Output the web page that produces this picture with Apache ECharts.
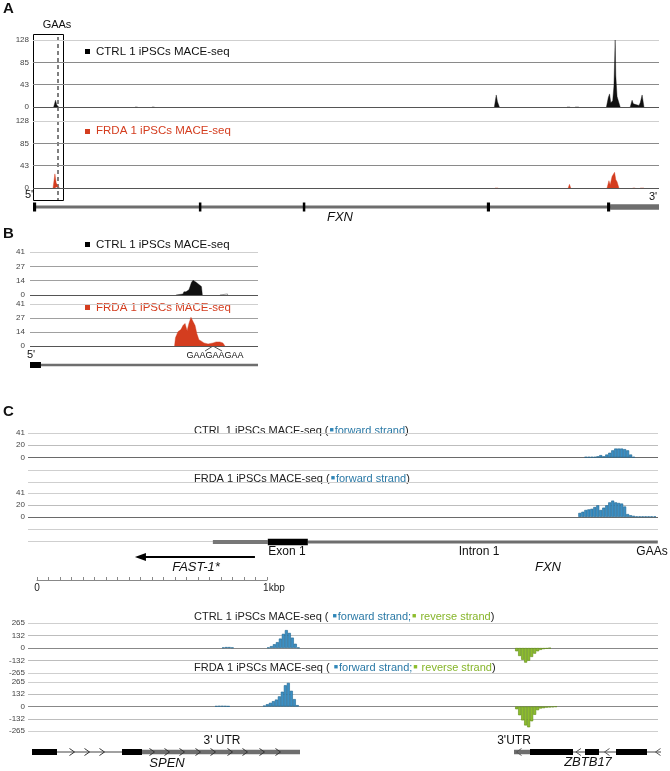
<!DOCTYPE html>
<html><head><meta charset="utf-8">
<script src="https://cdn.jsdelivr.net/npm/echarts@6/dist/echarts.min.js"></script>
<style>html,body{margin:0;padding:0;background:#fff}#c{width:670px;height:771px}</style>
</head><body><div id="c"></div>
<script>
// ---------- DATA ----------
// Panel A (FXN locus, position units 0..1000); each inner list is one peak
const aCtrlPeaks = [
  [[33,0],[36,13],[38,4],[41,0]],
  [[163,0],[165,1],[167,0]],
  [[190,0],[192,1],[194,0]],
  [[737,0],[740,23],[742,10],[745,0]],
  [[853,0],[856,2],[858,0]],
  [[866,0],[869,3],[872,0]],
  [[916,0],[919,18],[921,25],[923,8],[926,12],[928,40],[930,128],[931,60],[933,20],[935,12],[938,0]],
  [[954,0],[957,13],[959,6],[962,3],[968,3],[970,8],[973,23],[976,0]]
];
const aFrdaPeaks = [
  [[32,0],[35,27],[37,10],[40,3],[43,0]],
  [[738,0],[740,2],[743,0]],
  [[855,0],[857,7],[859,0]],
  [[917,0],[920,14],[922,6],[925,22],[929,30],[931,16],[933,12],[936,0]],
  [[958,0],[960,1],[962,0]],
  [[970,0],[973,3],[976,0]]
];
const aTicks = [0, 43, 85, 128];
const aGeneLine = [[0,1000]];
const aExons = [[0,5],[265,269],[431,435],[725,730],[917,922]];
const aUtr = [[922,1000]];

// Panel B (position units 0..1000)
const bCtrlPeaks = [
  [[640,0],[643,1],[671,1],[675,3],[684,3],[690,2],[697,5],[702,8],[708,12],[715,14],[722,13],[730,12],[741,10],[752,8],[756,0]],
  [[833,0],[834,1],[866,1],[867,0]]
];
const bFrdaPeaks = [
  [[634,0],[638,8],[649,14],[662,16],[671,20],[680,22],[689,15],[697,22],[706,28],[715,24],[724,20],[732,12],[741,6],[750,5],[763,3],[781,2],[803,3],[816,4],[833,4],[846,3],[855,0]]
];
const bTicks = [0, 14, 27, 41];
const bExons = [[0,48]];
const bGeneLine = [[48,1000]];

// Panel C top (bp, 0..2740)
const cCtrlFwd = [[2426,1],[2439,1],[2452,1],[2465,1],[2478,2],[2491,4],[2504,2],[2517,5],[2530,8],[2543,12],[2556,15],[2569,15],[2582,15],[2595,14],[2608,12],[2621,5],[2634,1]];
const cFrdaFwd = [[2400,7],[2413,9],[2426,12],[2439,13],[2452,14],[2465,17],[2478,20],[2491,12],[2504,16],[2517,20],[2530,25],[2543,28],[2556,25],[2569,24],[2582,23],[2595,18],[2608,5],[2621,3],[2634,2],[2647,1],[2660,1],[2673,1],[2686,1],[2699,1],[2712,1],[2726,1]];
const cTicksAll = [-41, -20, 0, 20, 41];
const cFxnUtr = [[804,1043]];
const cFxnExon = [[1043,1217]];
const cFxnIntron = [[1217,2739]];
const cFast1 = [[465,987]];

// Panel C bottom (bp-like units, 0..3150)
const dCtrlFwd = [[985,5],[1000,10],[1015,10],[1030,5],[1210,5],[1225,20],[1240,40],[1255,62],[1270,100],[1285,150],[1300,190],[1315,160],[1330,110],[1345,45],[1360,5]];
const dCtrlRev = [[2435,-35],[2450,-85],[2465,-125],[2480,-155],[2495,-135],[2510,-95],[2525,-60],[2540,-35],[2555,-20],[2570,-12],[2585,-8],[2600,-3]];
const dFrdaFwd = [[950,4],[965,6],[980,6],[995,5],[1010,3],[1190,10],[1205,25],[1220,40],[1235,58],[1250,75],[1265,110],[1280,160],[1295,230],[1310,255],[1325,170],[1340,80],[1355,15]];
const dFrdaRev = [[2435,-30],[2450,-95],[2465,-150],[2480,-205],[2495,-225],[2510,-160],[2525,-90],[2540,-40],[2555,-22],[2570,-18],[2585,-12],[2600,-10],[2615,-8],[2630,-4]];
const dTicks = [-265, -132, 0, 132, 265];
const spenExons = [[20,145],[470,570]];
const spenIntron = [[145,470]];
const spenUtr = [[570,1360]];
const spenChev = [[220,1],[295,1],[370,1],[620,1],[695,1],[770,1],[850,1],[925,1],[1010,1],[1085,1],[1170,1],[1250,1]];
const zbExons = [[2510,2725],[2785,2855],[2940,3095]];
const zbIntron = [[2725,2785],[2855,2940],[3095,3165]];
const zbUtr = [[2430,2510]];
const zbChev = [[2455,-1],[2752,-1],[2895,-1],[3150,-1]];

// ---------- CHART ----------
const FONT = '"Liberation Sans", Arial, sans-serif';
const chart = echarts.init(document.getElementById('c'), null, {renderer:'canvas'});

const grids = [], xAxes = [], yAxes = [], series = [];
function addGrid(g, xr, yCfg) {
  grids.push(Object.assign({containLabel:false}, g));
  const i = grids.length - 1;
  xAxes.push({type:'value', gridIndex:i, min:xr[0], max:xr[1], show:false});
  yAxes.push(Object.assign({type:'value', gridIndex:i}, yCfg || {min:0, max:1, show:false}));
  return i;
}
function trackY(ticks, colors, fmt, margin) {
  const mn = ticks[0], mx = ticks[ticks.length-1];
  return {min:mn, max:mx, interval:(mx-mn)/(ticks.length-1),
    axisLine:{show:false}, axisTick:{show:false},
    axisLabel:{fontSize:8, color:'#444', fontFamily:FONT, margin:margin||4,
      formatter: v => { let best = ticks[0]; ticks.forEach(t => { if (Math.abs(t-v) < Math.abs(best-v)) best = t; }); return fmt ? fmt(best) : String(best); }},
    splitLine:{show:true, lineStyle:{color:colors, width:1}}};
}
function feature(gi, data, h, color) {
  series.push({type:'custom', xAxisIndex:gi, yAxisIndex:gi, clip:false, silent:true, data:data,
    encode:{x:[0,1]},
    renderItem:(p, api) => {
      const a = api.coord([api.value(0), 0]), b = api.coord([api.value(1), 0]);
      const cy = p.coordSys.y + p.coordSys.height/2;
      return {type:'rect', shape:{x:a[0], y:cy-h/2, width:b[0]-a[0], height:h}, style:{fill:color}};
    }});
}
function chevrons(gi, data, color) {
  series.push({type:'custom', xAxisIndex:gi, yAxisIndex:gi, clip:false, silent:true, data:data,
    encode:{x:0},
    renderItem:(p, api) => {
      const a = api.coord([api.value(0), 0]); const d = api.value(1);
      const cy = p.coordSys.y + p.coordSys.height/2;
      return {type:'polyline', shape:{points:[[a[0]-2.5*d, cy-3.5],[a[0]+2.5*d, cy],[a[0]-2.5*d, cy+3.5]]},
        style:{stroke:color, lineWidth:1, fill:null}};
    }});
}
function arrowL(gi, data) {
  series.push({type:'custom', xAxisIndex:gi, yAxisIndex:gi, clip:false, silent:true, data:data,
    encode:{x:[0,1]},
    renderItem:(p, api) => {
      const a = api.coord([api.value(0), 0]), b = api.coord([api.value(1), 0]);
      const cy = p.coordSys.y + p.coordSys.height/2;
      return {type:'group', children:[
        {type:'line', shape:{x1:a[0]+8, y1:cy, x2:b[0], y2:cy}, style:{stroke:'#000', lineWidth:2}},
        {type:'polygon', shape:{points:[[a[0],cy],[a[0]+11,cy-4],[a[0]+11,cy+4]]}, style:{fill:'#000'}}
      ]};
    }});
}
function areaPeaks(gi, peaks, color) {
  peaks.forEach(pk => series.push({type:'line', xAxisIndex:gi, yAxisIndex:gi, data:pk, showSymbol:false, silent:true,
    lineStyle:{color:color, width:0.4}, areaStyle:{color:color, opacity:1}, animation:false}));
}
function bars(gi, data, color, border) {
  series.push({type:'bar', xAxisIndex:gi, yAxisIndex:gi, data:data, barWidth:3, silent:true,
    itemStyle:{color:color, borderColor:border, borderWidth:0.6}, animation:false});
}

const RED = '#d43d1f', BLUE = '#3b8fc4', BLUE_D = '#1d6590', GREEN = '#8dbd2c', GREEN_D = '#5f8c14';
const GENE_GRAY = '#6e6e6e';

// Panel A
const aColors = ['#555','#8a8a8a','#8a8a8a','#cfcfcf'];
const gA1 = addGrid({left:33, width:626, top:40, height:67}, [0,1000], trackY(aTicks, aColors));
const gA2 = addGrid({left:33, width:626, top:121, height:67}, [0,1000], trackY(aTicks, aColors));
const gAG = addGrid({left:33, width:626, top:201, height:12}, [0,1000]);
areaPeaks(gA1, aCtrlPeaks, '#111');
areaPeaks(gA2, aFrdaPeaks, RED);
feature(gAG, aGeneLine, 3, GENE_GRAY);
feature(gAG, aUtr, 5.5, GENE_GRAY);
feature(gAG, aExons, 9, '#000');

// Panel B
const bColors = ['#555','#a0a0a0','#a0a0a0','#cfcfcf'];
const gB1 = addGrid({left:30, width:228, top:252, height:43}, [0,1000], trackY(bTicks, bColors, null, 5));
const gB2 = addGrid({left:30, width:228, top:304, height:42}, [0,1000], trackY(bTicks, bColors, null, 5));
const gBG = addGrid({left:30, width:228, top:359, height:12}, [0,1000]);
areaPeaks(gB1, bCtrlPeaks, '#111');
areaPeaks(gB2, bFrdaPeaks, RED);
feature(gBG, bGeneLine, 2.5, GENE_GRAY);
feature(gBG, bExons, 6, '#000');

// Panel C top
const cColors = ['#cfcfcf','#cfcfcf','#6a6a6a','#bdbdbd','#cfcfcf'];
const cFmt = v => v < 0 ? '' : String(v);
const gC1 = addGrid({left:28, width:630, top:433, height:49}, [0,2740], trackY(cTicksAll, cColors, cFmt, 3));
const gC2 = addGrid({left:28, width:630, top:493, height:48}, [0,2740], trackY(cTicksAll, cColors, cFmt, 3));
const gCG = addGrid({left:28, width:630, top:536, height:12}, [0,2740]);
const gCA = addGrid({left:28, width:630, top:552, height:10}, [0,2740]);
bars(gC1, cCtrlFwd, BLUE, BLUE_D);
bars(gC2, cFrdaFwd, BLUE, BLUE_D);
feature(gCG, cFxnIntron, 3, GENE_GRAY);
feature(gCG, cFxnUtr, 4, '#777');
feature(gCG, cFxnExon, 6.5, '#000');
arrowL(gCA, cFast1);
// scale bar (0 .. 1 kbp)
grids.push({left:37, width:230, top:570, height:10});
const gCS = grids.length - 1;
xAxes.push({type:'value', gridIndex:gCS, min:0, max:1000, interval:50,
  axisLine:{show:true, lineStyle:{color:'#888', width:1}},
  axisTick:{show:true, inside:true, length:3, lineStyle:{color:'#888'}},
  splitLine:{show:false},
  axisLabel:{fontSize:10, color:'#222', fontFamily:FONT, margin:3, showMinLabel:true, showMaxLabel:true,
    formatter: v => v === 0 ? '0' : (v === 1000 ? '     1kbp' : '')}});
yAxes.push({type:'value', gridIndex:gCS, show:false, min:0, max:1});

// Panel C bottom
const dColors = ['#cfcfcf','#bdbdbd','#888','#bdbdbd','#cfcfcf'];
const gD1 = addGrid({left:28, width:630, top:623, height:50}, [0,3150], trackY(dTicks, dColors, null, 3));
const gD2 = addGrid({left:28, width:630, top:682, height:49}, [0,3150], trackY(dTicks, dColors, null, 3));
const gDG = addGrid({left:28, width:630, top:746, height:12}, [0,3150]);
bars(gD1, dCtrlFwd, BLUE, BLUE_D);
bars(gD1, dCtrlRev, GREEN, GREEN_D);
bars(gD2, dFrdaFwd, BLUE, BLUE_D);
bars(gD2, dFrdaRev, GREEN, GREEN_D);
feature(gDG, spenIntron, 1, '#444');
feature(gDG, spenUtr, 4.5, GENE_GRAY);
feature(gDG, spenExons, 6, '#000');
chevrons(gDG, spenChev, '#333');
feature(gDG, zbIntron, 1, '#444');
feature(gDG, zbUtr, 4.5, GENE_GRAY);
feature(gDG, zbExons, 6, '#000');
chevrons(gDG, zbChev, '#555');

// ---------- TEXT / ANNOTATIONS ----------
function txt(x, y, text, o) {
  return {type:'text', silent:true, style:Object.assign({x:x, y:y, text:text, fontFamily:FONT, fontSize:11, fill:'#111', align:'left', verticalAlign:'middle'}, o || {})};
}
const richC = {
  k:{fontSize:11, fill:'#222', fontFamily:FONT},
  bs:{fontSize:7, fill:'#2f86b8', fontFamily:FONT, padding:[0,1,1,1]},
  b:{fontSize:11, fill:'#2a79a6', fontFamily:FONT},
  gs:{fontSize:7, fill:'#8dbd2c', fontFamily:FONT, padding:[0,1,1,1]},
  g:{fontSize:11, fill:'#86b52a', fontFamily:FONT}
};
function richTxt(x, y, text) {
  return {type:'text', silent:true, style:{x:x, y:y, text:text, rich:richC, fontFamily:FONT, fontSize:11, verticalAlign:'middle', align:'left'}};
}
const graphics = [
  txt(3, 9, 'A', {fontSize:15, fontWeight:'bold'}),
  txt(57, 25, 'GAAs', {align:'center', fontSize:11}),
  {type:'rect', silent:true, shape:{x:33.5, y:34.5, width:30, height:166}, style:{fill:null, stroke:'#000', lineWidth:1}},
  {type:'line', silent:true, shape:{x1:58, y1:37, x2:58, y2:200}, style:{stroke:'#555', lineWidth:1.5, lineDash:[4,3]}},
  {type:'rect', silent:true, shape:{x:85, y:49, width:5, height:5}, style:{fill:'#000'}},
  txt(96, 52, 'CTRL 1 iPSCs MACE-seq', {fontSize:11.5, fill:'#111'}),
  {type:'rect', silent:true, shape:{x:85, y:129, width:5, height:5}, style:{fill:RED}},
  txt(96, 131, 'FRDA 1 iPSCs MACE-seq', {fontSize:11.5, fill:RED}),
  txt(25, 195, "5'", {fontSize:11}),
  txt(649, 197, "3'", {fontSize:11}),
  txt(340, 217, 'FXN', {align:'center', fontSize:13, fontStyle:'italic'}),

  txt(3, 234, 'B', {fontSize:15, fontWeight:'bold'}),
  {type:'rect', silent:true, shape:{x:85, y:242, width:5, height:5}, style:{fill:'#000'}},
  txt(96, 245, 'CTRL 1 iPSCs MACE-seq', {fontSize:11.5, fill:'#111'}),
  {type:'rect', silent:true, shape:{x:85, y:305, width:5, height:5}, style:{fill:RED}},
  txt(96, 308, 'FRDA 1 iPSCs MACE-seq', {fontSize:11.5, fill:RED}),
  txt(27, 355, "5'", {fontSize:11}),
  txt(215, 356, 'GAAGAAGAA', {align:'center', fontSize:9}),
  {type:'polyline', silent:true, shape:{points:[[205,351],[213,346],[222,351]]}, style:{stroke:'#222', lineWidth:0.8, fill:null}},

  txt(3, 412, 'C', {fontSize:15, fontWeight:'bold'}),
  richTxt(194, 431, '{k|CTRL 1 iPSCs MACE-seq (}{bs|■}{b|forward strand}{k|)}'),
  richTxt(194, 479, '{k|FRDA 1 iPSCs MACE-seq (}{bs|■}{b|forward strand}{k|)}'),
  txt(287, 552, 'Exon 1', {align:'center', fontSize:12}),
  txt(479, 552, 'Intron 1', {align:'center', fontSize:12}),
  txt(652, 552, 'GAAs', {align:'center', fontSize:12}),
  txt(548, 567, 'FXN', {align:'center', fontSize:13, fontStyle:'italic'}),
  txt(196, 567, 'FAST-1*', {align:'center', fontSize:13, fontStyle:'italic'}),

  richTxt(194, 617, '{k|CTRL 1 iPSCs MACE-seq ( }{bs|■}{b|forward strand;}{gs|■}{g| reverse strand}{k|)}'),
  richTxt(194, 668, '{k|FRDA 1 iPSCs MACE-seq ( }{bs|■}{b|forward strand;}{gs|■}{g| reverse strand}{k|)}'),
  txt(222, 741, "3' UTR", {align:'center', fontSize:12}),
  txt(167, 763, 'SPEN', {align:'center', fontSize:13, fontStyle:'italic'}),
  txt(514, 741, "3'UTR", {align:'center', fontSize:12}),
  txt(588, 762, 'ZBTB17', {align:'center', fontSize:13, fontStyle:'italic'})
];

chart.setOption({
  animation:false,
  backgroundColor:'#fff',
  grid:grids, xAxis:xAxes, yAxis:yAxes, series:series,
  graphic:graphics
});
</script></body></html>
